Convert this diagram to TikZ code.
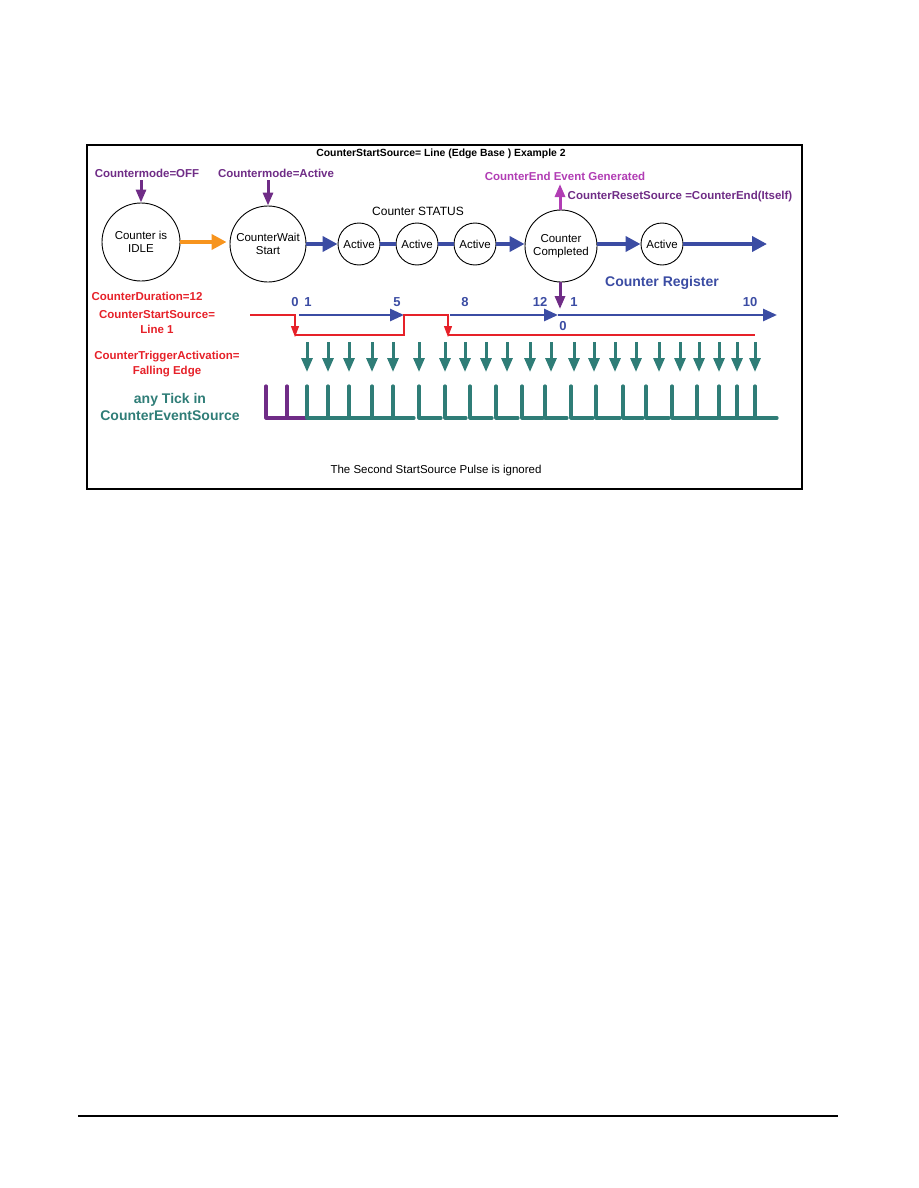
\documentclass[tikz,border=0pt]{standalone}
\usepackage{fontspec}
\setmainfont{Liberation Sans}
\usetikzlibrary{arrows.meta}
\definecolor{cpurple}{HTML}{6F2C86}
\definecolor{cmagenta}{HTML}{B13DB4}
\definecolor{cred}{HTML}{E62129}
\definecolor{cblue}{HTML}{3B4CA3}
\definecolor{cteal}{HTML}{2F7D77}
\definecolor{corange}{HTML}{F7941D}
\tikzset{
  stnode/.style={circle, draw=black, line width=0.9pt, inner sep=0pt, minimum size=#1, align=center, font=\fontsize{11.5}{13.5}\selectfont},
  lbl/.style={inner sep=0pt, font=\fontsize{11.5}{14}\selectfont\bfseries, align=center},
  bigarrow/.style={line width=4.5pt, -{Triangle[length=15pt,width=15pt]}},
  bluelink/.style={cblue, line width=4.5pt},
  parrow/.style={line width=3pt, -{Triangle[length=13pt,width=10pt]}},
  regarrow/.style={cblue, line width=2.8pt, -{Triangle[length=14pt,width=12pt]}},
  redarrow/.style={cred, line width=1.2pt, -{Triangle[length=11pt,width=8pt]}},
  tarrow/.style={cteal, line width=3pt, -{Triangle[length=14pt,width=11pt]}},
  ticks/.style={line width=3.2pt, line cap=round, line join=round},
  num/.style={inner sep=0pt, cblue, font=\fontsize{13}{15}\selectfont\bfseries}
}
\begin{document}
\begin{tikzpicture}[x=1pt,y=-1pt]
\useasboundingbox (0,0) rectangle (918,1188);
% frame
\draw[line width=1.2pt] (87,145) rectangle (802,489);
\draw[line width=1.3pt] (78,1116) -- (838,1116);

% title
\node[lbl, font=\fontsize{10.4}{13}\selectfont\bfseries] (title) at (441,154) {CounterStartSource= Line (Edge Base ) Example 2};

% states
\node[stnode=78pt] (idle) at (141,242) {Counter is\\IDLE};
\node[stnode=76pt] (wait) at (268,244) {CounterWait\\Start};
\node[stnode=42pt] (a1) at (359,244) {Active};
\node[stnode=42pt] (a2) at (417,244) {Active};
\node[stnode=42pt] (a3) at (475,244) {Active};
\node[stnode=72pt] (done) at (561,246) {Counter\\Completed};
\node[stnode=42pt] (a4) at (662,244) {Active};
\coordinate (endp) at (767,244);

\draw[bigarrow, corange, shorten >=3pt] (idle.east) -- (idle.east -| wait.west);
\draw[bigarrow, cblue] (wait.east) -- (a1.west);
\draw[bluelink] (a1.east) -- (a2.west);
\draw[bluelink] (a2.east) -- (a3.west);
\draw[bigarrow, cblue] (a3.east) -- (a3.east -| done.west);
\draw[bigarrow, cblue] (a4.west -| done.east) -- (a4.west);
\draw[bigarrow, cblue] (a4.east) -- (endp);

\node[inner sep=0pt, font=\fontsize{12}{14}\selectfont] (status) at (418,211) {Counter STATUS};

% mode labels
\node[lbl, cpurple] (cmoff) at (147,173) {Countermode=OFF};
\node[lbl, cpurple] (cmact) at (276,173) {Countermode=Active};
\coordinate (cmoffa) at (141,180);
\coordinate (cmacta) at (268,180);
\draw[parrow, cpurple] (cmoffa) -- (idle.north);
\draw[parrow, cpurple] (cmacta) -- (wait.north);

\node[lbl, cmagenta] (ceg) at (565,176) {CounterEnd Event Generated};
\node[lbl, cpurple] (crs) at (680,197) {CounterResetSource =CounterEnd(Itself)};
\coordinate (upend) at (560,184);
\draw[parrow, cmagenta] (done.north -| upend) -- (upend);
\coordinate (downend) at (560,309);
\draw[parrow, cpurple] (done.south -| downend) -- (downend);

\node[lbl, cblue, font=\fontsize{14}{16}\selectfont\bfseries] (reg) at (662,283) {Counter Register};

% left labels
\node[lbl, cred] (dur) at (147,296) {CounterDuration=12};
\node[lbl, cred, font=\fontsize{11.5}{14.5}\selectfont\bfseries] (css) at (157,322) {CounterStartSource=\\Line 1};
\node[lbl, cred, font=\fontsize{11.5}{14.5}\selectfont\bfseries] (cta) at (167,364) {CounterTriggerActivation=\\Falling Edge};
\node[lbl, cteal, font=\fontsize{14}{16.5}\selectfont\bfseries] (ces) at (170,407) {any Tick in\\CounterEventSource};
\node[inner sep=0pt, font=\fontsize{11.5}{13.5}\selectfont] (ign) at (436,471) {The Second StartSource Pulse is ignored};

% counter register numbers
\node[num] (n0) at (295,302) {0};
\node[num] (n1) at (308,302) {1};
\node[num] (n5) at (397,302) {5};
\node[num] (n8) at (465,302) {8};
\node[num] (n12) at (540,302) {12};
\node[num] (n1b) at (574,302) {1};
\node[num] (n10) at (750,302) {10};
\node[num] (n0b) at (563,326) {0};

\draw[regarrow] (299,315) -- (404,315);
\draw[regarrow] (450,315) -- (558,315);
\draw[regarrow] (558,315) -- (777,315);

% start source signal
\draw[cred, line width=1.2pt] (250,315) -- (295,315) -- (295,330);
\draw[cred, line width=1.2pt] (295,335) -- (404,335) -- (404,315) -- (448,315) -- (448,330);
\draw[cred, line width=1.2pt] (448,335) -- (755,335);
\draw[redarrow] (295,318) -- (295,337);
\draw[redarrow] (448,318) -- (448,337);

% trigger arrows
\foreach \x in {307,328,349,372,393,419,445,465,486,507,530,551,574,594,615,636,659,680,699,719,737,755}
  \draw[tarrow] (\x,342) -- (\x,372);

% ticks
\draw[ticks, cpurple] (266,386) -- (266,418) -- (307,418);
\draw[ticks, cpurple] (287,386) -- (287,418);
\draw[ticks, cteal] (307,386) -- (307,418) -- (414,418);
\foreach \x in {328,349,372,393}
  \draw[ticks, cteal] (\x,386) -- (\x,418);
\foreach \a/\b in {419/441,445/466,470/492,496/518,522/543,545/567,571/593,596/620,623/643,646/669,672/695,697/777}
  \draw[ticks, cteal] (\a,386) -- (\a,418) -- (\b,418);
\foreach \x in {719,737,755}
  \draw[ticks, cteal] (\x,386) -- (\x,418);
\end{tikzpicture}
\end{document}
